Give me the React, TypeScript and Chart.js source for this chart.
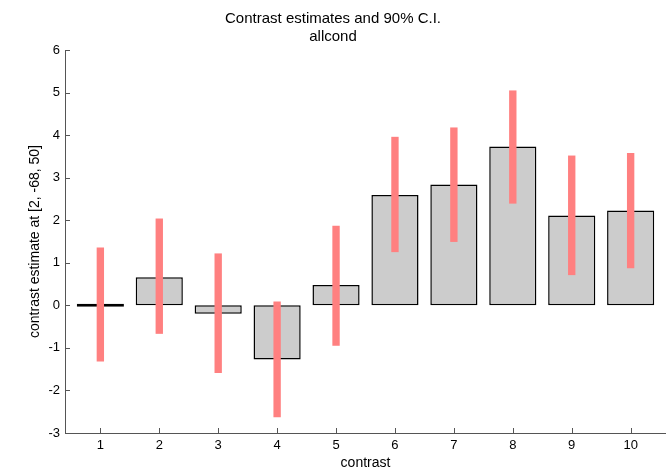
import React, { useEffect, useRef } from "react";
import { Chart, registerables } from "chart.js";

Chart.register(...registerables);

const categories = [1, 2, 3, 4, 5, 6, 7, 8, 9, 10];
const estimates = [0, 0.66, -0.2, -1.27, 0.48, 2.59, 2.84, 3.73, 2.11, 2.23];
const ciLow = [-1.32, -0.67, -1.59, -2.63, -0.95, 1.25, 1.49, 2.39, 0.71, 0.87];
const ciHigh = [1.36, 2.04, 1.22, 0.09, 1.87, 3.96, 4.18, 5.05, 3.52, 3.58];
const titleLines = ["Contrast estimates and 90% C.I.", "allcond"];
const yTitle = "contrast estimate at [2, -68, 50]";
const xTitle = "contrast";

const FONT = "'Liberation Sans', Arial, sans-serif";
const AXIS = "#555555";

const inwardTicks = {
  id: "inwardTicks",
  afterDraw(chart: any) {
    const { ctx, chartArea, scales } = chart;
    const x = scales.x;
    const y = scales.y;
    ctx.save();
    ctx.strokeStyle = AXIS;
    ctx.lineWidth = 1;
    ctx.beginPath();
    y.ticks.forEach((t: any) => {
      const py = Math.round(y.getPixelForValue(t.value)) + 0.5;
      ctx.moveTo(chartArea.left, py);
      ctx.lineTo(chartArea.left + 5, py);
    });
    x.ticks.forEach((t: any) => {
      const px = Math.round(x.getPixelForValue(t.value)) + 0.5;
      ctx.moveTo(px, chartArea.bottom);
      ctx.lineTo(px, chartArea.bottom - 5);
    });
    ctx.stroke();
    ctx.restore();
  },
};

export default function App() {
  const ref = useRef<HTMLCanvasElement>(null);
  useEffect(() => {
    document.body.style.margin = "0";
    const canvas = ref.current;
    if (!canvas) return;
    const chart = new Chart(canvas, {
      type: "bar",
      data: {
        datasets: [
          {
            label: "CI",
            data: categories.map((c, i) => ({ x: c, y: [ciLow[i], ciHigh[i]] })) as any,
            backgroundColor: "#ff8080",
            borderWidth: 0,
            barPercentage: 0.125,
            categoryPercentage: 1,
            grouped: false,
            order: 0,
          } as any,
          {
            label: "estimate",
            data: categories.map((c, i) => ({ x: c, y: estimates[i] })) as any,
            backgroundColor: (c: any) =>
              estimates[c.dataIndex] === 0 ? "#000000" : "#cccccc",
            borderColor: "#000000",
            borderWidth: 1.5,
            borderSkipped: false,
            barPercentage: 0.8,
            categoryPercentage: 1,
            grouped: false,
            minBarLength: 3,
            order: 1,
          } as any,
        ],
      },
      options: {
        responsive: false,
        animation: false,
        layout: { padding: { left: 0, right: 0, top: 0, bottom: 0 } },
        plugins: {
          legend: { display: false },
          tooltip: { enabled: false },
          title: {
            display: true,
            text: titleLines,
            color: "#000",
            font: { family: FONT, size: 15, weight: "normal", lineHeight: 1.2 },
            padding: { top: 10, bottom: 4 },
          },
        },
        scales: {
          x: {
            type: "linear",
            min: 0.4,
            max: 10.6,
            offset: false,
            afterBuildTicks: (scale: any) => {
              scale.ticks = categories.map((v) => ({ value: v }));
            },
            afterFit: (scale: any) => {
              scale.height = 37;
            },
            grid: { display: false, drawTicks: false, tickLength: 0 },
            border: { display: true, color: AXIS, width: 1 },
            ticks: {
              color: "#000",
              font: { family: FONT, size: 13 },
              padding: 5,
              maxRotation: 0,
              autoSkip: false,
            },
            title: {
              display: true,
              text: xTitle,
              color: "#000",
              font: { family: FONT, size: 14, lineHeight: 1 },
              padding: { top: 0, bottom: 0 },
            },
          },
          y: {
            min: -3,
            max: 6,
            afterFit: (scale: any) => {
              scale.width = 65;
            },
            grid: { display: false, drawTicks: false, tickLength: 0 },
            border: { display: true, color: AXIS, width: 1 },
            ticks: {
              stepSize: 1,
              color: "#000",
              font: { family: FONT, size: 13 },
              padding: 5,
            },
            title: {
              display: true,
              text: yTitle,
              color: "#000",
              font: { family: FONT, size: 14, lineHeight: 1 },
              padding: { top: 28, bottom: 0 },
            },
          },
        },
      } as any,
      plugins: [inwardTicks],
    });
    return () => chart.destroy();
  }, []);
  return <canvas ref={ref} width={666} height={470} style={{ display: "block" }} />;
}
